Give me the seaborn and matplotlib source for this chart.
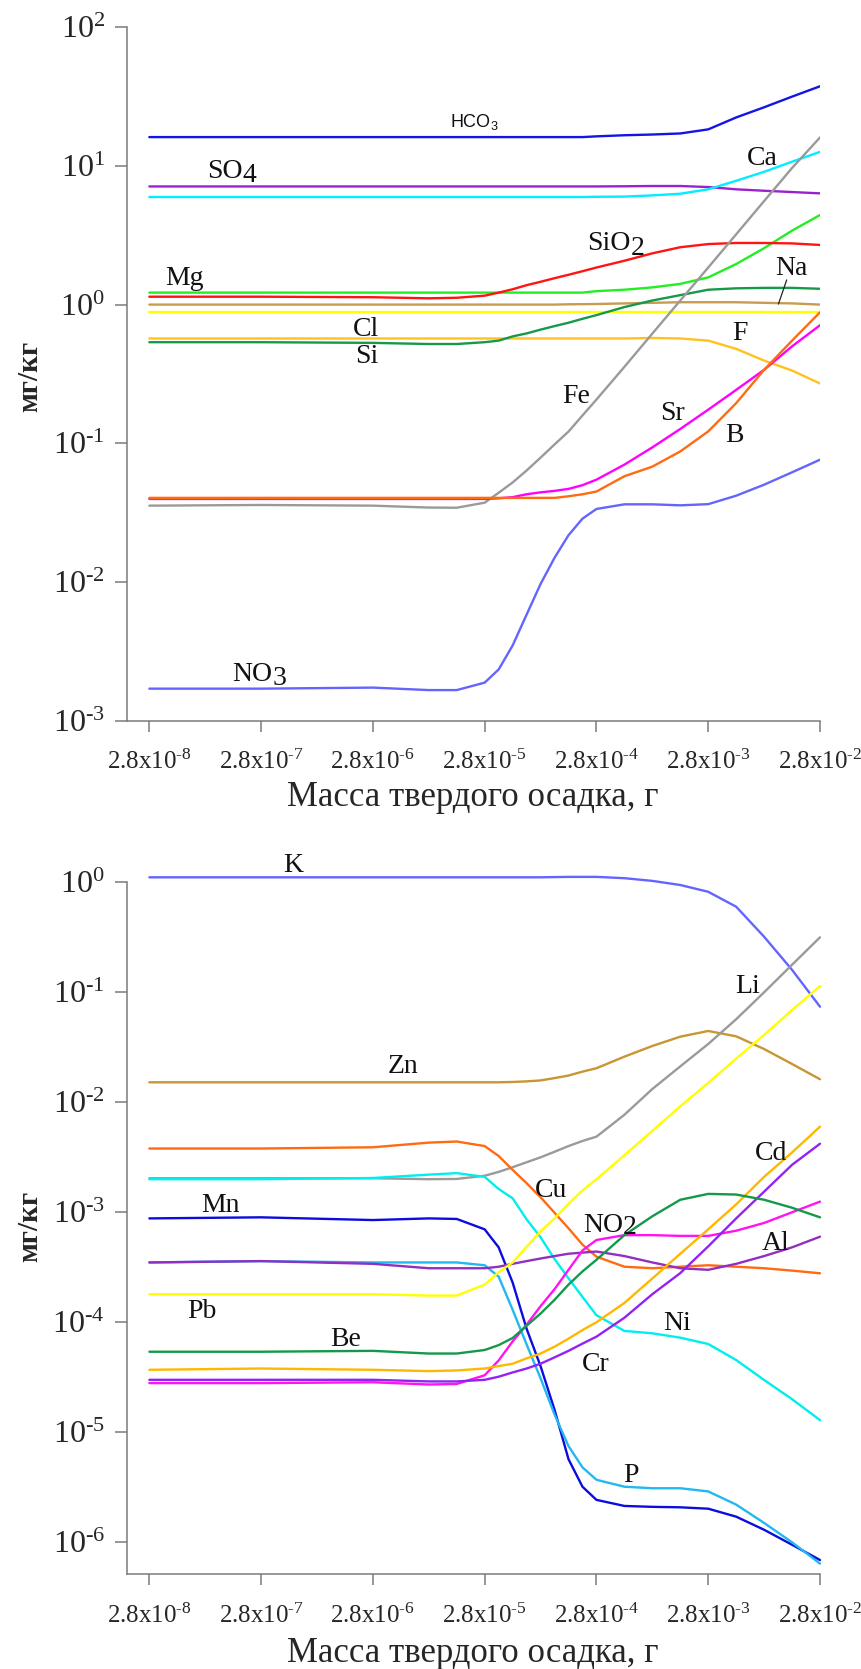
import numpy as np
import pandas as pd
import matplotlib
matplotlib.use("Agg")
import matplotlib.pyplot as plt
import seaborn as sns
from matplotlib.ticker import FixedLocator, NullLocator, FixedFormatter
from matplotlib.mathtext import MathTextParser

# ---------------- data ----------------
mass = [2.8e-8, 2.8e-7, 2.8e-6, 8.85e-6, 1.574e-5, 2.8e-5, 3.734e-5, 4.98e-5, 6.64e-5, 8.85e-5,
        1.181e-4, 1.574e-4, 2.10e-4, 2.8e-4, 4.98e-4, 8.85e-4, 1.574e-3, 2.8e-3, 4.98e-3,
        8.85e-3, 1.574e-2, 2.8e-2]

# upper panel (mg/kg)
HCO3 = [16.1, 16.1, 16.1, 16.1, 16.1, 16.1, 16.1, 16.1, 16.1, 16.1, 16.1, 16.1, 16.1,
        16.3, 16.6, 16.8, 17.1, 18.3, 22.3, 26.4, 31.5, 37.4]
SO4 = [7.1, 7.1, 7.1, 7.1, 7.1, 7.1, 7.1, 7.1, 7.1, 7.1, 7.1, 7.1, 7.1,
       7.1, 7.12, 7.15, 7.15, 7.03, 6.77, 6.61, 6.47, 6.33]
Ca = [5.96, 5.96, 5.96, 5.96, 5.96, 5.96, 5.96, 5.96, 5.96, 5.96, 5.96, 5.96, 5.96,
      5.98, 6.0, 6.12, 6.29, 6.77, 7.8, 9.05, 10.7, 12.6]
Mg = [1.22, 1.22, 1.22, 1.22, 1.22, 1.22, 1.22, 1.22, 1.22, 1.22, 1.22, 1.22, 1.22,
      1.25, 1.28, 1.33, 1.41, 1.57, 1.96, 2.55, 3.41, 4.42]
SiO2 = [1.14, 1.14, 1.13, 1.11, 1.12, 1.16, 1.22, 1.29, 1.38, 1.46, 1.55, 1.64, 1.74,
        1.85, 2.07, 2.34, 2.59, 2.73, 2.78, 2.78, 2.76, 2.69]
Na = [1.0, 1.0, 1.0, 1.0, 1.0, 1.0, 1.0, 1.0, 1.0, 1.0, 1.0, 1.005, 1.007,
      1.01, 1.02, 1.03, 1.04, 1.04, 1.04, 1.03, 1.02, 1.0]
Cl = [0.88, 0.88, 0.88, 0.88, 0.88, 0.88, 0.88, 0.88, 0.88, 0.88, 0.88, 0.88, 0.88,
      0.88, 0.88, 0.88, 0.88, 0.88, 0.88, 0.88, 0.88, 0.88]
F = [0.57, 0.57, 0.57, 0.57, 0.57, 0.57, 0.57, 0.57, 0.57, 0.57, 0.57, 0.57, 0.57,
     0.57, 0.57, 0.575, 0.57, 0.55, 0.48, 0.395, 0.335, 0.27]
Si = [0.536, 0.536, 0.53, 0.52, 0.52, 0.536, 0.55, 0.59, 0.62, 0.66, 0.70, 0.74, 0.79,
      0.84, 0.96, 1.07, 1.17, 1.28, 1.31, 1.32, 1.32, 1.30]
Fe = [0.0356, 0.036, 0.0356, 0.0345, 0.0344, 0.0374, 0.0441, 0.0523, 0.0638, 0.0789, 0.0983,
      0.1216, 0.159, 0.207, 0.356, 0.618, 1.07, 1.85, 3.21, 5.57, 9.64, 16.0]
Sr = [0.0398, 0.0398, 0.0398, 0.0398, 0.0398, 0.0398, 0.0402, 0.041, 0.043, 0.0444, 0.0455,
      0.047, 0.050, 0.0548, 0.0703, 0.0936, 0.127, 0.175, 0.243, 0.339, 0.50, 0.71]
B = [0.0405, 0.0405, 0.0405, 0.0405, 0.0405, 0.0405, 0.0405, 0.0405, 0.0405, 0.0405, 0.0405,
     0.0416, 0.043, 0.045, 0.058, 0.068, 0.0875, 0.122, 0.195, 0.339, 0.55, 0.88]
NO3 = [0.00171, 0.00171, 0.00174, 0.00167, 0.00167, 0.00189, 0.00235, 0.0035, 0.00584, 0.0097,
       0.015, 0.0218, 0.0287, 0.0337, 0.0364, 0.0364, 0.0358, 0.0365, 0.042, 0.0504, 0.0619, 0.0763]

# lower panel (mg/kg)
K = [1.11, 1.11, 1.11, 1.11, 1.11, 1.11, 1.11, 1.11, 1.11, 1.11, 1.115, 1.12, 1.12,
     1.12, 1.09, 1.03, 0.945, 0.82, 0.6, 0.32, 0.16, 0.074]
Zn = [0.0152, 0.0152, 0.0152, 0.0152, 0.0152, 0.0152, 0.0152, 0.0153, 0.0155, 0.0158, 0.0166,
      0.0175, 0.019, 0.0204, 0.026, 0.0325, 0.0395, 0.0445, 0.0398, 0.0305, 0.0223, 0.0162]
Li = [0.00204, 0.00204, 0.00204, 0.0020, 0.00201, 0.00215, 0.00233, 0.00257, 0.00285, 0.00316,
      0.00355, 0.0040, 0.00445, 0.00487, 0.0077, 0.0132, 0.0212, 0.0339, 0.0569, 0.10, 0.178, 0.316]
Cu = [0.0038, 0.0038, 0.0039, 0.0043, 0.0044, 0.0040, 0.00325, 0.00243, 0.00184, 0.00137, 0.00099,
      0.000716, 0.000508, 0.000395, 0.00032, 0.00031, 0.00032, 0.00033, 0.00032, 0.00031, 0.000295, 0.000279]
Ni = [0.0020, 0.0020, 0.00205, 0.0022, 0.00227, 0.0021, 0.00163, 0.00134, 0.000863, 0.000593,
      0.000376, 0.000251, 0.00017, 0.000116, 0.0000835, 0.0000794, 0.0000725, 0.0000635, 0.0000454,
      0.0000299, 0.000020, 0.0000129]
Mn = [0.00088, 0.0009, 0.00085, 0.00088, 0.00087, 0.0007, 0.00048, 0.00023, 0.0000873, 0.00004,
      0.000016, 0.0000057, 0.0000032, 0.00000243, 0.00000214, 0.0000021, 0.00000208, 0.00000202,
      0.00000171, 0.0000013, 0.00000095, 0.00000069]
P = [0.00035, 0.00036, 0.00035, 0.00035, 0.00035, 0.00033, 0.00026, 0.00013, 0.000063, 0.000031,
     0.0000145, 0.0000075, 0.0000048, 0.0000037, 0.0000032, 0.0000031, 0.0000031, 0.0000029,
     0.0000022, 0.0000015, 0.0000010, 0.00000064]
Al = [0.00035, 0.00036, 0.00034, 0.00031, 0.00031, 0.00031, 0.00032, 0.00034, 0.00036, 0.00038,
      0.0004, 0.00042, 0.00043, 0.00044, 0.0004, 0.00035, 0.00031, 0.0003, 0.00034, 0.0004, 0.00048, 0.0006]
NO2 = [0.000028, 0.000028, 0.0000285, 0.0000272, 0.0000275, 0.000033, 0.000045, 0.000067, 0.000095,
       0.00014, 0.0002, 0.0003, 0.00045, 0.00056, 0.00062, 0.00062, 0.00061, 0.00061, 0.00068,
       0.0008, 0.001, 0.00125]
Cr = [0.00003, 0.00003, 0.00003, 0.000029, 0.000029, 0.00003, 0.000032, 0.000035, 0.000038, 0.000042,
      0.000048, 0.000055, 0.000064, 0.000074, 0.00011, 0.00018, 0.00028, 0.00049, 0.00088, 0.00154,
      0.0027, 0.0042]
Cd = [0.000037, 0.000038, 0.000037, 0.000036, 0.0000365, 0.000038, 0.00004, 0.000042, 0.000047,
      0.000052, 0.00006, 0.000071, 0.000085, 0.0001, 0.00015, 0.00025, 0.00042, 0.0007, 0.00118,
      0.0021, 0.0035, 0.006]
Pb = [0.00018, 0.00018, 0.00018, 0.000175, 0.000175, 0.00022, 0.000285, 0.00035, 0.000486, 0.00067,
      0.00088, 0.00119, 0.00158, 0.002, 0.0033, 0.0055, 0.0092, 0.015, 0.025, 0.041, 0.069, 0.114]
Be = [0.000054, 0.000054, 0.000055, 0.000052, 0.000052, 0.000056, 0.000062, 0.000072, 0.000093,
      0.00012, 0.00016, 0.00022, 0.00029, 0.00037, 0.00062, 0.00092, 0.0013, 0.00147, 0.00145,
      0.0013, 0.0011, 0.0009]

top_series = {"HCO3": HCO3, "SO4": SO4, "Ca": Ca, "Mg": Mg, "SiO2": SiO2, "Na": Na, "Cl": Cl,
              "F": F, "Si": Si, "Fe": Fe, "Sr": Sr, "B": B, "NO3": NO3}
bot_series = {"K": K, "Zn": Zn, "Li": Li, "Cu": Cu, "Ni": Ni, "Mn": Mn, "P": P, "Al": Al,
              "NO2": NO2, "Cr": Cr, "Cd": Cd, "Pb": Pb, "Be": Be}

top_colors = {"HCO3": "#1414E6", "SO4": "#9A22CC", "Ca": "#00EEFF", "Mg": "#22EE22", "SiO2": "#FF1414",
              "Na": "#C89B50", "Cl": "#FFFF00", "F": "#FFC21E", "Si": "#16994A", "Fe": "#9A9A9A",
              "Sr": "#FF00FF", "B": "#FF6A12", "NO3": "#6464FF"}
bot_colors = {"K": "#6464FF", "Zn": "#C89632", "Li": "#9A9A9A", "Cu": "#FF6A12", "Ni": "#00EEEE",
              "Mn": "#0C0CDC", "P": "#22B8F0", "Al": "#9030C0", "NO2": "#FF14F0", "Cr": "#9422F2",
              "Cd": "#FFB800", "Pb": "#FFFF00", "Be": "#14994A"}

xtick_vals = [2.8e-8, 2.8e-7, 2.8e-6, 2.8e-5, 2.8e-4, 2.8e-3, 2.8e-2]
xtick_exps = ["8", "7", "6", "5", "4", "3", "2"]
top_yticks = [1e-3, 1e-2, 1e-1, 1e0, 1e1, 1e2]
top_yexps = ["-3", "-2", "-1", "0", "1", "2"]
bot_yticks = [1e-6, 1e-5, 1e-4, 1e-3, 1e-2, 1e-1, 1e0]
bot_yexps = ["-6", "-5", "-4", "-3", "-2", "-1", "0"]

# label annotations: (x, y, main text, subscript)
top_labels = [(9.25e-8, 8.11, "SO", "4"), (3.89e-8, 1.386, "Mg", None), (1.87e-6, 0.595, "Cl", None),
              (1.95e-6, 0.381, "Si", None), (2.32e-4, 2.47, "SiO", "2"), (6.25e-3, 10.1, "Ca", None),
              (1.11e-2, 1.636, "Na", None), (4.59e-3, 0.557, "F", None), (1.38e-4, 0.195, "Fe", None),
              (1.04e-3, 0.148, "Sr", None), (3.97e-3, 0.1017, "B", None), (1.55e-7, 0.00193, "NO", "3")]
bot_labels = [(4.44e-7, 1.24, "K", None), (3.79e-6, 0.01836, "Zn", None), (4.85e-3, 0.0986, "Li", None),
              (7.85e-5, 0.001377, "Cu", None), (2.11e-4, 0.000667, "NO", "2"), (7.33e-3, 0.00299, "Cd", None),
              (8.46e-3, 0.000454, "Al", None), (1.10e-3, 0.0000851, "Ni", None), (8.18e-8, 0.00101, "Mn", None),
              (6.13e-8, 0.0001087, "Pb", None), (1.17e-6, 0.0000609, "Be", None), (2.07e-4, 0.0000363, "Cr", None),
              (4.82e-4, 0.00000356, "P", None)]

# ---------------- style ----------------
sns.set_style("ticks")
plt.rcParams["font.family"] = ["Liberation Serif", "DejaVu Serif"]
plt.rcParams["mathtext.fontset"] = "custom"
plt.rcParams["mathtext.rm"] = "Liberation Serif"
plt.rcParams["mathtext.it"] = "Liberation Serif:italic"
plt.rcParams["mathtext.default"] = "regular"

# hyphen (not a long minus) in exponents, as in the original
_parser = MathTextParser("path")
def _hy(e):
    if not e.startswith("-"):
        return e
    cand = r"\text{-}" + e[1:]
    try:
        _parser.parse("$" + cand + "$")
        return cand
    except Exception:
        return "\u2010" + e[1:]

xtick_labels = [r"$\mathregular{2.8x10^{" + _hy("-" + e) + "}}$" for e in xtick_exps]
top_ylabels = [r"$\mathregular{10^{" + _hy(e) + "}}$" for e in top_yexps]
bot_ylabels = [r"$\mathregular{10^{" + _hy(e) + "}}$" for e in bot_yexps]

W, H = 862, 1669
fig = plt.figure(figsize=(W / 100, H / 100), dpi=100)
fig.patch.set_facecolor("white")

ax1 = fig.add_axes([127 / W, (H - 721) / H, 693 / W, 694 / H])
ax2 = fig.add_axes([127 / W, (H - 1574.3) / H, 693 / W, 692 / H])

SPINE = "#7a7a7a"


def make_df(series):
    rows = []
    for name, vals in series.items():
        for m, v in zip(mass, vals):
            rows.append({"mass": m, "value": v, "species": name})
    return pd.DataFrame(rows)


def style_axes(ax, yticks, ylabels, ylim):
    ax.set_xscale("log")
    ax.set_yscale("log")
    ax.set_xlim(2.8e-8 / 10 ** 0.2, 2.8e-2)
    ax.set_ylim(*ylim)
    ax.xaxis.set_major_locator(FixedLocator(xtick_vals))
    ax.xaxis.set_major_formatter(FixedFormatter(xtick_labels))
    ax.xaxis.set_minor_locator(NullLocator())
    ax.yaxis.set_major_locator(FixedLocator(yticks))
    ax.yaxis.set_major_formatter(FixedFormatter(ylabels))
    ax.yaxis.set_minor_locator(NullLocator())
    for s in ["top", "right"]:
        ax.spines[s].set_visible(False)
    for s in ["left", "bottom"]:
        ax.spines[s].set_color(SPINE)
        ax.spines[s].set_linewidth(1.1)
    ax.tick_params(axis="x", direction="out", length=8, width=1.1, color=SPINE,
                   labelsize=18, pad=13)
    ax.tick_params(axis="y", direction="out", length=9, width=1.1, color=SPINE,
                   labelsize=23, pad=7)
    ax.set_xlabel("")
    ax.set_ylabel("")
    ax.set_facecolor("white")


def draw_labels(ax, labels, dys):
    renderer = fig.canvas.get_renderer()
    for (x, y, main, sub) in labels:
        t = ax.text(x, y, main, ha="left", va="baseline", fontsize=20,
                    family="Liberation Serif", color="#111111")
        if sub:
            w = t.get_window_extent(renderer).width
            ax.annotate(sub, xy=(x, y), xycoords="data",
                        xytext=(w * 72 / fig.dpi, -dys.get(main + sub, 2.5)),
                        textcoords="offset points", ha="left", va="baseline",
                        fontsize=20, family="Liberation Serif", color="#111111")


# ---------------- top panel ----------------
df_top = make_df(top_series)
sns.lineplot(data=df_top, x="mass", y="value", hue="species", palette=top_colors,
             hue_order=list(top_series.keys()), ax=ax1, legend=False, linewidth=1.7,
             estimator=None)
style_axes(ax1, top_yticks, top_ylabels, (1e-3, 1e2))

# ---------------- bottom panel ----------------
df_bot = make_df(bot_series)
sns.lineplot(data=df_bot, x="mass", y="value", hue="species", palette=bot_colors,
             hue_order=list(bot_series.keys()), ax=ax2, legend=False, linewidth=1.7,
             estimator=None)
style_axes(ax2, bot_yticks, bot_ylabels, (10 ** -6.291, 1.0))
for ln in ax2.lines:
    ln.set_clip_on(False)
for ln in ax1.lines + ax2.lines:
    ln.set_solid_joinstyle("round")

fig.canvas.draw()
draw_labels(ax1, top_labels, {"SO4": 2.4, "SiO2": 3.6, "NO3": 2.4})
draw_labels(ax2, bot_labels, {"NO2": 2.0})

# HCO3 label (sans, small)
ax1.text(1.38e-5, 19.1, r"HCO$_\mathregular{3}$", ha="left", va="baseline", fontsize=13,
         family="Liberation Sans", color="#111111")

# Na leader line
ax1.plot([1.41e-2, 1.19e-2], [1.506, 1.01], color="#222222", linewidth=0.9)

# axis titles
for yb, ycen in [(806, 376), (1662, 1226)]:
    fig.text(473 / W, 1 - yb / H, "Масса твердого осадка, г", ha="center", va="baseline",
             fontsize=25, family="Liberation Serif")
    fig.text(30 / W, 1 - ycen / H, "мг/кг", ha="center", va="center", rotation=90,
             fontsize=21, fontweight="bold", family="Liberation Serif")

fig.savefig("out.png", dpi=100, facecolor="white")
